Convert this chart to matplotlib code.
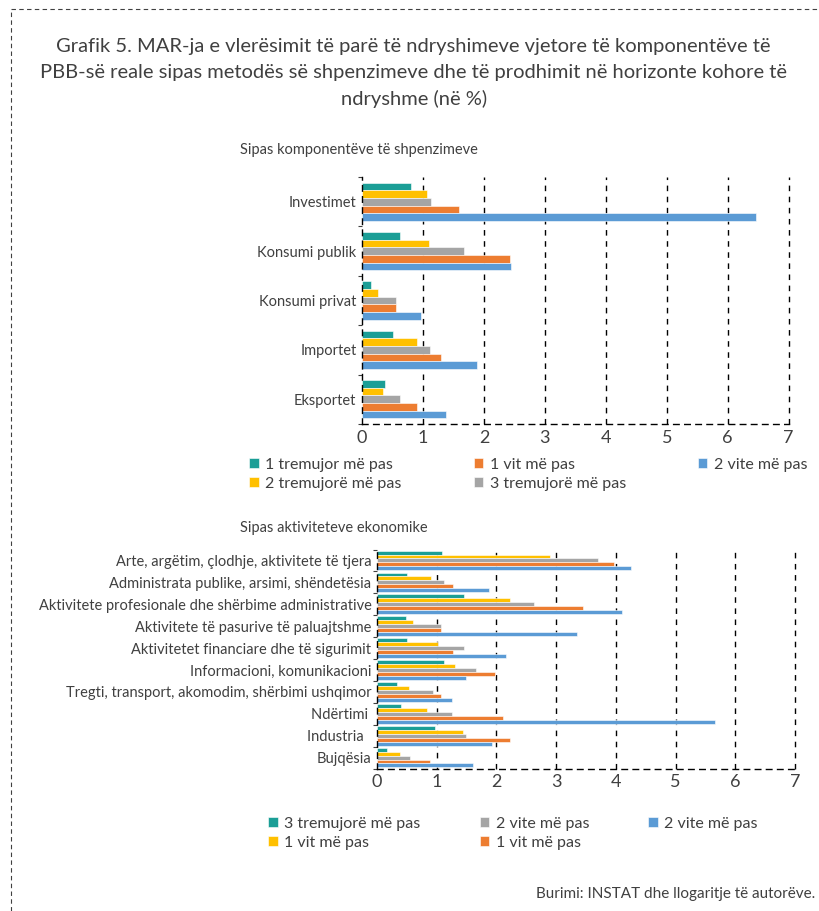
import matplotlib
matplotlib.use('Agg')
import matplotlib.pyplot as plt
import numpy as np
from matplotlib.lines import Line2D

plt.rcParams['font.family'] = ['Lato', 'DejaVu Sans']

# data
komp_labels = ['Investimet', 'Konsumi publik', 'Konsumi privat', 'Importet', 'Eksportet']
komp_1tr = [0.81, 0.63, 0.14, 0.51, 0.38]
komp_2tr = [1.07, 1.10, 0.27, 0.90, 0.34]
komp_3tr = [1.14, 1.68, 0.55, 1.12, 0.63]
komp_1vit = [1.59, 2.42, 0.56, 1.29, 0.91]
komp_2vite = [6.47, 2.44, 0.96, 1.88, 1.38]
komp_series = ['1 tremujor më pas', '2 tremujorë më pas', '3 tremujorë më pas',
               '1 vit më pas', '2 vite më pas']

akt_labels = ['Arte, argëtim, çlodhje, aktivitete të tjera',
              'Administrata publike, arsimi, shëndetësia',
              'Aktivitete profesionale dhe shërbime administrative',
              'Aktivitete të pasurive të paluajtshme',
              'Aktivitetet financiare dhe të sigurimit',
              'Informacioni, komunikacioni',
              'Tregti, transport, akomodim, shërbimi ushqimor',
              'Ndërtimi ', 'Industria  ', 'Bujqësia']
akt_s1 = [1.09, 0.51, 1.46, 0.49, 0.50, 1.12, 0.33, 0.40, 0.97, 0.16]
akt_s2 = [2.89, 0.91, 2.23, 0.60, 1.03, 1.31, 0.53, 0.83, 1.44, 0.38]
akt_s3 = [3.70, 1.12, 2.63, 1.08, 1.45, 1.65, 0.93, 1.26, 1.49, 0.56]
akt_s4 = [3.97, 1.28, 3.45, 1.07, 1.28, 1.98, 1.07, 2.11, 2.23, 0.89]
akt_s5 = [4.25, 1.88, 4.10, 3.35, 2.16, 1.49, 1.26, 5.66, 1.92, 1.61]
akt_series = ['3 tremujorë më pas', '1 vit më pas', '2 vite më pas',
              '1 vit më pas', '2 vite më pas']

colors = ['#1B9E96', '#FFC000', '#A5A5A5', '#ED7D31', '#5B9BD5']
txt = '#404040'


def draw_panel(ax, labels, series, names, fsize, h):
    n = len(labels)
    y = np.arange(n)
    for j, vals in enumerate(series):
        ax.barh(y + (j - 2) * h, vals, height=h, color=colors[j],
                edgecolor='white', linewidth=0.4, label=names[j])
    ax.set_xlim(0, 7)
    ax.set_ylim(n - 0.5, -0.5)
    ax.set_xticks(range(8))
    ax.set_yticks(y)
    ax.set_yticklabels(labels, fontsize=fsize, color=txt)
    ax.set_yticks(np.arange(n + 1) - 0.5, minor=True)
    ax.tick_params(axis='y', which='major', length=0, pad=4)
    ax.tick_params(axis='y', which='minor', length=3, color='#404040', width=0.8)
    ax.tick_params(axis='x', length=0, labelsize=13, labelcolor=txt, pad=4)
    for xv in range(1, 8):
        ax.axvline(xv, color='black', linestyle=(0, (4, 4)), linewidth=1,
                   zorder=0, clip_on=False)
    for s in ['top', 'right']:
        ax.spines[s].set_visible(False)
    for s in ['left', 'bottom']:
        ax.spines[s].set_linestyle((0, (4, 4)))
        ax.spines[s].set_linewidth(1)
        ax.spines[s].set_color('black')


fig = plt.figure(figsize=(8.19, 9.11), dpi=100)

fig.text(0.505, 0.958, 'Grafik 5. MAR-ja e vlerësimit të parë të ndryshimeve vjetore të komponentëve të\n'
         'PBB-së reale sipas metodës së shpenzimeve dhe të prodhimit në horizonte kohore të\n'
         'ndryshme (në %)', ha='center', va='top', fontsize=14.5, color=txt,
         linespacing=1.6)

# top panel
ax1 = fig.add_axes([0.442, 0.5346, 0.521, 0.2711])
draw_panel(ax1, komp_labels, [komp_1tr, komp_2tr, komp_3tr, komp_1vit, komp_2vite],
           komp_series, 10.5, 0.155)
fig.text(0.293, 0.835, 'Sipas komponentëve të shpenzimeve', fontsize=10.5, color=txt, va='center')
h1, l1 = ax1.get_legend_handles_labels()
order1 = [0, 1, 3, 2, 4]
fig.legend([h1[i] for i in order1], [l1[i] for i in order1], loc='upper left',
           bbox_to_anchor=(0.287, 0.513), ncol=3, frameon=False,
           fontsize=11.5, handlelength=0.6, handleheight=0.6, handletextpad=0.4,
           columnspacing=4.5, labelspacing=0.3, labelcolor=txt)

# bottom panel
ax2 = fig.add_axes([0.4603, 0.1564, 0.5104, 0.2404])
draw_panel(ax2, akt_labels, [akt_s1, akt_s2, akt_s3, akt_s4, akt_s5],
           akt_series, 10.5, 0.18)
fig.text(0.293, 0.42, 'Sipas aktiviteteve ekonomike', fontsize=10.5, color=txt, va='center')
h2, l2 = ax2.get_legend_handles_labels()
fig.legend(h2, l2, loc='upper left',
           bbox_to_anchor=(0.31, 0.119), ncol=3, frameon=False,
           fontsize=11.5, handlelength=0.6, handleheight=0.6, handletextpad=0.4,
           columnspacing=3.7, labelspacing=0.3, labelcolor=txt)

fig.text(0.995, 0.014, 'Burimi: INSTAT dhe llogaritje të autorëve.', ha='right',
         fontsize=11, color=txt)

# dashed frame (top and left)
fig.add_artist(Line2D([0.013, 1.0], [0.99, 0.99], transform=fig.transFigure,
                      color='#404040', linestyle=(0, (4, 3)), linewidth=0.8))
fig.add_artist(Line2D([0.013, 0.013], [0.0, 0.99], transform=fig.transFigure,
                      color='#404040', linestyle=(0, (4, 3)), linewidth=0.8))

fig.savefig('out.png', dpi=100)
